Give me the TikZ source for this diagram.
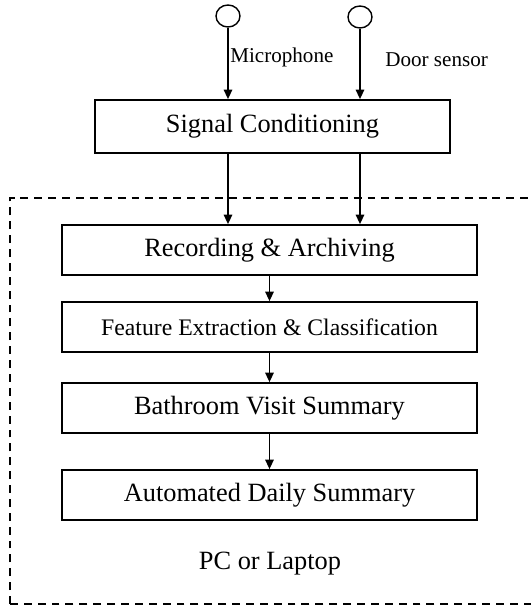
\documentclass[tikz,border=0pt]{standalone}
\usepackage{fontspec}
\setmainfont{Liberation Serif}
\usetikzlibrary{arrows.meta,calc,positioning,shapes.geometric}
\tikzset{
  block/.style={
    draw=black,
    line width=1pt,
    minimum width=8.3cm,
    minimum height=1.0cm,
    inner sep=0pt,
    align=center,
    text=black,
    font=\fontsize{15}{18}\selectfont
  },
  signal block/.style={
    block,
    minimum width=7.1cm,
    minimum height=1.06cm
  },
  dense block/.style={
    block,
    font=\fontsize{13.5}{16}\selectfont
  },
  sensor/.style={
    ellipse,
    draw=black,
    line width=.8pt,
    minimum width=.48cm,
    minimum height=.44cm,
    inner sep=0pt
  },
  sensor label/.style={
    anchor=west,
    inner sep=0pt,
    font=\fontsize{12}{14}\selectfont
  },
  host label/.style={
    inner sep=0pt,
    font=\fontsize{15}{18}\selectfont
  },
  host frame/.style={
    draw=black,
    line width=.8pt,
    dash pattern=on 4.5pt off 3.4pt
  },
  flow/.style={
    -{Triangle[length=1.9mm,width=1.7mm]},
    line width=.8pt,
    draw=black
  }
}

\begin{document}
\begin{tikzpicture}[x=1cm,y=1cm]
  \useasboundingbox (0,0) rectangle (10.62,12.14);
  \draw[host frame] (0.2,0.06) rectangle (10.9,8.18);

  \node[sensor] (mic)  at (4.56,11.82) {};
  \node[sensor] (door) at (7.20,11.80) {};
  \node[sensor label] (micname)  at (4.60,11.00) {Microphone};
  \node[sensor label] (doorname) at (7.70,10.95) {Door sensor};

  \node[signal block] (cond)  at (5.45,9.61) {Signal Conditioning};
  \node[block]        (rec)   at (5.39,7.14) {Recording \& Archiving};
  \node[dense block]  (feat)  at (5.39,5.60) {Feature Extraction \& Classification};
  \node[block]        (visit) at (5.39,3.98) {Bathroom Visit Summary};
  \node[block]        (daily) at (5.39,2.24) {Automated Daily Summary};
  \node[host label]   (host)  at (5.40,0.86) {PC or Laptop};

  \draw[flow] (mic)  -- (mic |- cond.north);
  \draw[flow] (door) -- (door |- cond.north);
  \draw[flow] (cond.south -| mic)  -- (rec.north -| mic);
  \draw[flow] (cond.south -| door) -- (rec.north -| door);
  \draw[flow] (rec)   -- (feat);
  \draw[flow] (feat)  -- (visit);
  \draw[flow] (visit) -- (daily);
\end{tikzpicture}
\end{document}
